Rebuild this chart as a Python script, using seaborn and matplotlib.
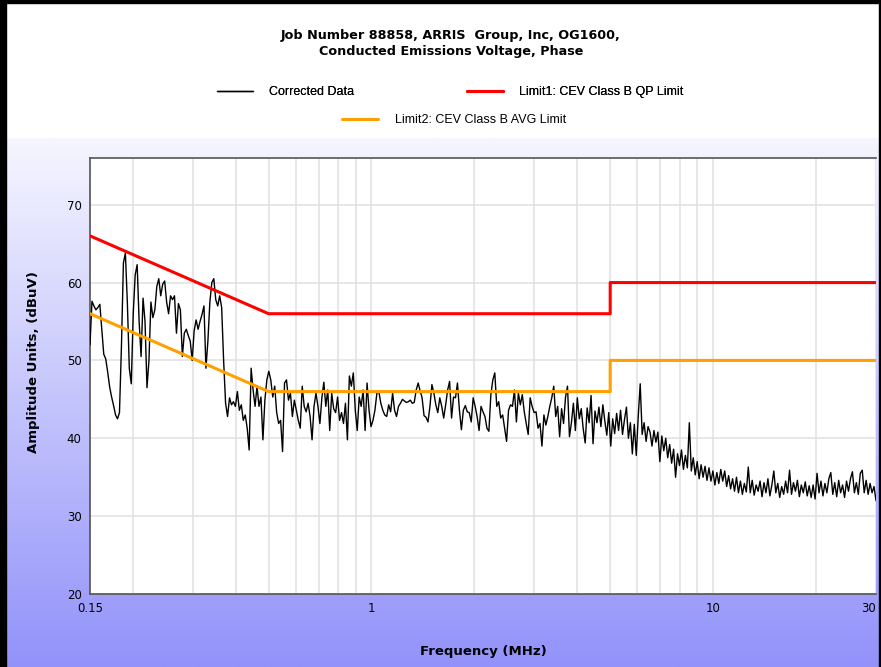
import numpy as np
import pandas as pd
import seaborn as sns
import matplotlib.pyplot as plt
from matplotlib.lines import Line2D
from matplotlib.patches import Rectangle

# corrected data, dBuV, one value per sweep point (0.15 - 30 MHz, log sweep)
amplitude = [
    52.0, 57.6, 57.0, 56.5, 56.8, 57.2, 54.0, 50.8, 50.2, 48.5,
    46.6, 45.3, 44.2, 43.0, 42.5, 43.3, 51.8, 62.5, 63.8, 57.5,
    49.0, 47.0, 56.0, 61.0, 62.3, 55.0, 50.5, 58.0, 55.0, 46.5,
    50.0, 57.5, 55.5, 56.5, 59.5, 60.5, 58.3, 59.8, 60.2, 57.5,
    56.0, 58.3, 57.8, 58.3, 53.5, 57.3, 56.5, 50.5, 53.5, 54.0,
    53.2, 52.5, 50.0, 53.8, 55.2, 54.0, 55.0, 55.9, 57.0, 49.0,
    52.5, 57.5, 60.0, 60.5, 57.8, 57.0, 58.3, 56.8, 50.0, 44.5,
    42.8, 45.2, 44.3, 44.7, 44.1, 46.0, 43.6, 44.3, 42.3, 43.0,
    41.3, 38.5, 49.0, 46.2, 44.1, 46.7, 44.1, 45.3, 39.8, 44.9,
    47.5, 48.6, 47.5, 45.3, 46.7, 43.3, 41.9, 42.3, 38.3, 47.1,
    47.5, 44.9, 45.8, 42.8, 44.9, 43.6, 42.3, 41.3, 46.7, 44.1,
    43.4, 44.5, 42.8, 39.8, 44.1, 45.8, 44.1, 41.9, 45.2, 47.2,
    44.1, 46.2, 41.0, 45.8, 43.8, 43.3, 45.3, 42.3, 43.3, 41.9,
    44.5, 39.8, 48.0, 46.7, 48.4, 43.6, 41.0, 45.3, 44.1, 46.2,
    41.0, 47.1, 43.6, 41.5, 42.3, 43.6, 45.8, 46.0, 44.5, 43.6,
    43.0, 42.8, 44.3, 43.4, 45.8, 43.6, 42.8, 44.1, 44.5, 45.0,
    44.8, 44.6, 44.7, 44.9, 44.5, 44.6, 46.2, 47.1, 46.1, 45.2,
    42.9, 42.7, 42.1, 44.1, 46.9, 45.8, 44.3, 43.3, 45.2, 44.1,
    42.6, 44.3, 46.2, 47.3, 42.6, 45.3, 45.2, 47.1, 43.6, 41.1,
    43.6, 44.2, 43.4, 43.3, 42.1, 45.2, 44.1, 42.8, 41.0, 44.1,
    43.4, 42.8, 41.3, 40.9, 45.6, 47.5, 48.4, 44.1, 44.7, 42.6,
    43.0, 41.3, 39.6, 43.6, 44.3, 44.1, 46.2, 42.1, 45.8, 44.3,
    45.6, 43.4, 41.9, 40.5, 45.2, 44.1, 43.3, 43.4, 41.3, 41.9,
    39.0, 43.0, 41.7, 42.8, 44.1, 45.2, 46.7, 42.8, 44.1, 40.2,
    43.8, 41.9, 45.3, 46.7, 40.2, 42.0, 44.5, 41.0, 45.2, 42.5,
    43.8, 41.2, 39.4, 43.9, 42.0, 45.5, 39.3, 43.5, 42.0, 44.0,
    41.5, 44.3, 42.2, 40.4, 43.3, 39.0, 42.5, 40.6, 43.2, 41.0,
    43.6, 40.5, 42.4, 44.0, 40.0, 42.0, 38.0, 41.8, 37.8, 42.8,
    47.0, 40.5, 42.0, 39.6, 41.5, 40.8, 39.0, 41.0, 39.5, 40.8,
    37.0, 40.3, 38.4, 40.0, 37.5, 39.2, 36.8, 38.6, 35.0, 38.0,
    36.5, 38.5, 36.0, 37.8, 36.2, 42.0, 35.8, 37.5, 35.3, 37.0,
    34.8, 36.6, 35.0, 36.4, 34.6, 36.2, 34.5, 35.8, 34.0, 35.6,
    34.2, 36.0, 34.5, 35.8, 33.8, 35.2, 33.5, 34.8, 33.2, 35.0,
    33.0, 34.5, 32.8, 34.2, 33.1, 36.3, 33.0, 34.6, 32.7, 34.0,
    33.2, 34.5, 32.5, 34.3, 33.0, 34.8, 32.6, 34.0, 35.8, 33.0,
    34.2, 32.4, 33.8, 32.8, 34.5, 33.0, 35.9, 32.8, 34.3, 33.2,
    34.6, 32.5, 34.0, 33.0, 34.4, 32.6, 33.9, 32.4, 34.0, 32.2,
    35.5, 33.0, 34.5, 32.6, 34.2, 33.0, 34.8, 35.6, 32.8, 34.3,
    32.5, 34.6, 33.0, 34.0, 32.4, 34.5, 33.2, 34.8, 35.7, 33.0,
    34.3, 32.8, 35.5, 35.9, 33.0, 34.6, 32.8, 34.2, 33.0, 33.8,
    32.0,
]
frequency = np.geomspace(0.15, 30, len(amplitude))

limit_freq = [0.15, 0.5, 5, 5, 30]
qp_limit = [66, 56, 56, 60, 60]
avg_limit = [56, 46, 46, 50, 50]

xticks = [0.15, 1, 10, 30]
xtick_labels = ['0.15', '1', '10', '30']
yticks = [20, 30, 40, 50, 60, 70]

df_data = pd.DataFrame({'freq': frequency, 'amp': amplitude})
df_qp = pd.DataFrame({'freq': limit_freq, 'amp': qp_limit})
df_avg = pd.DataFrame({'freq': limit_freq, 'amp': avg_limit})

sns.set_style('white')
plt.rcParams['font.family'] = ['DejaVu Sans']
plt.rcParams['text.color'] = 'black'
plt.rcParams['axes.labelcolor'] = 'black'
plt.rcParams['xtick.labelcolor'] = 'black'
plt.rcParams['ytick.labelcolor'] = 'black'

fig = plt.figure(figsize=(8.81, 6.67), dpi=100)

# background: white top, lavender gradient below
bg = fig.add_axes([0, 0, 1, 1], zorder=-10)
top_c = np.array([246, 246, 255]) / 255
bot_c = np.array([146, 146, 250]) / 255
t = np.linspace(0, 1, 500)[:, None]
grad = top_c + (bot_c - top_c) * t
img = np.repeat(grad[:, None, :], 2, axis=1)
bg.imshow(img, aspect='auto', extent=[0, 1, 0, 1 - 138 / 667])
bg.set_xlim(0, 1)
bg.set_ylim(0, 1)
bg.axis('off')

# frame
fig.patches.append(Rectangle((0, 0), 6 / 881, 1, transform=fig.transFigure, color='black'))
fig.patches.append(Rectangle((0, 1 - 3 / 667), 1, 3 / 667, transform=fig.transFigure, color='black'))
fig.patches.append(Rectangle((1 - 2 / 881, 0), 2 / 881, 1, transform=fig.transFigure, color='black'))

ax = fig.add_axes([90 / 881, 1 - 594 / 667, 786 / 881, 436 / 667])
ax.set_facecolor('white')

sns.lineplot(data=df_data, x='freq', y='amp', ax=ax, color='black', lw=1,
             estimator=None, sort=False, zorder=3)
sns.lineplot(data=df_qp, x='freq', y='amp', ax=ax, color='#ff0000', lw=2.2,
             estimator=None, sort=False, zorder=4)
sns.lineplot(data=df_avg, x='freq', y='amp', ax=ax, color='#ffa000', lw=2.2,
             estimator=None, sort=False, zorder=4)

ax.set_xscale('log')
ax.set_xlim(0.15, 30)
ax.set_ylim(20, 76)
ax.set_xticks(xticks)
ax.set_xticklabels(xtick_labels)
ax.get_xticklabels()[-1].set_ha('right')
ax.set_xticks([0.2, 0.3, 0.4, 0.5, 0.6, 0.7, 0.8, 0.9, 2, 3, 4, 5, 6, 7, 8, 9, 20], minor=True)
ax.set_yticks(yticks)
ax.grid(True, which='both', axis='x', color='#e0e0e0', lw=1.1)
ax.grid(True, which='major', axis='y', color='#e0e0e0', lw=1.1)
ax.tick_params(axis='both', which='major', direction='out', length=4, width=1,
               color='#555555', labelsize=8.5, pad=2)
ax.tick_params(axis='x', which='minor', length=0)
ax.set_axisbelow(True)

for side in ['left', 'bottom', 'top']:
    ax.spines[side].set_color('#555555')
    ax.spines[side].set_linewidth(1.2)
ax.spines['right'].set_visible(False)

ax.set_xlabel('Frequency (MHz)', fontsize=9.5, fontweight='bold')
ax.set_ylabel('Amplitude Units, (dBuV)', fontsize=9.5, fontweight='bold')
ax.xaxis.set_label_coords(0.5, -0.117)
ax.yaxis.set_label_coords(-0.064, 0.532)

fig.text(451 / 881, 1 - 35 / 667, 'Job Number 88858, ARRIS  Group, Inc, OG1600,',
         ha='center', va='center', fontsize=9.2, fontweight='bold')
fig.text(451 / 881, 1 - 52 / 667, 'Conducted Emissions Voltage, Phase',
         ha='center', va='center', fontsize=9.2, fontweight='bold')

h1 = [Line2D([], [], color='black', lw=1), Line2D([], [], color='#ff0000', lw=2.2)]
leg1 = fig.legend(h1, ['Corrected Data', 'Limit1: CEV Class B QP Limit'],
                  loc='center', bbox_to_anchor=(450 / 881, 1 - 92 / 667), ncol=2,
                  frameon=False, prop={'family': 'Liberation Sans', 'size': 9},
                  handlelength=2.9, handletextpad=1.3, columnspacing=9.0)
fig.add_artist(leg1)
h2 = [Line2D([], [], color='#ffa000', lw=2.2)]
fig.legend(h2, ['Limit2: CEV Class B AVG Limit'],
           loc='center', bbox_to_anchor=(454 / 881, 1 - 120 / 667),
           frameon=False, prop={'family': 'Liberation Sans', 'size': 9},
           handlelength=2.9, handletextpad=1.3)

fig.savefig('out.png', dpi=100)
